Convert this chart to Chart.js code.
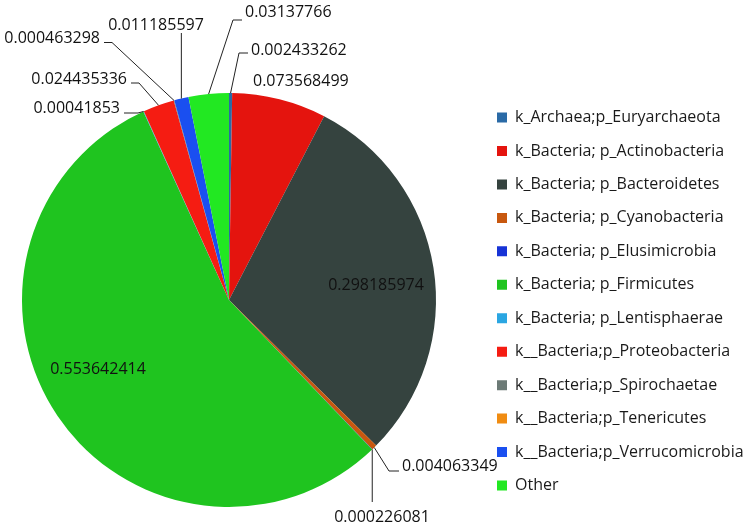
<!DOCTYPE html>
<html><head><meta charset="utf-8">
<script src="https://cdn.jsdelivr.net/npm/chart.js@4/dist/chart.umd.min.js"></script>
<style>html,body{margin:0;padding:0;background:#fff}</style>
</head><body>
<canvas id="c" width="750" height="525"></canvas>
<script>
// ---- data ----
const categories = [
  "k_Archaea;p_Euryarchaeota",
  "k_Bacteria; p_Actinobacteria",
  "k_Bacteria; p_Bacteroidetes",
  "k_Bacteria; p_Cyanobacteria",
  "k_Bacteria; p_Elusimicrobia",
  "k_Bacteria; p_Firmicutes",
  "k_Bacteria; p_Lentisphaerae",
  "k__Bacteria;p_Proteobacteria",
  "k__Bacteria;p_Spirochaetae",
  "k__Bacteria;p_Tenericutes",
  "k__Bacteria;p_Verrucomicrobia",
  "Other"
];
const values = [
  0.002433262, 0.073568499, 0.298185974, 0.004063349, 0.000226081, 0.553642414,
  0.00041853, 0.024435336, 0.000463298, 0, 0.011185597, 0.03137766
];
const sliceColors = [
  "#2a6aa6", "#e4140e", "#35433f", "#c8580f", "#1733d6", "#1fc41f",
  "#2aa6e2", "#f51c12", "#6c7a76", "#f08c12", "#1a4ff0", "#22e822"
];

// ---- layout (styling only) ----
const FONT = "'Open Sans', sans-serif";
const PIE_BOX = { left: 22, top: 93, size: 414 };
const LEGEND_BOX_X = 497;
// text anchors for value labels, by category index
const labelLayout = {
  0:  { x: 251, y: 54.5, align: "left",   leader: "elbow", dy: -1.5, tick: 9 },
  1:  { x: 253, y: 86,   align: "left",   leader: "none" },
  2:  { x: 376, y: 290,  align: "center", leader: "none" },
  3:  { x: 402, y: 471,  align: "left",   leader: "elbow", dy: 0, tick: 10 },
  4:  { x: 382, y: 522,  align: "center", leader: "vertical", endY: 502 },
  5:  { x: 98,  y: 374,  align: "center", leader: "none" },
  6:  { x: 120, y: 113,  align: "right",  leader: "elbow", dy: 0, tick: 14 },
  7:  { x: 127, y: 84,   align: "right",  leader: "elbow", dy: -1, tick: 8 },
  8:  { x: 100, y: 42.5, align: "right",  leader: "elbow", dy: 0, tick: 8 },
  10: { x: 156, y: 30,   align: "center", leader: "vertical", endY: 33 },
  11: { x: 245, y: 17,   align: "left",   leader: "elbow", dy: 3, tick: 9 }
};

const placePlugin = {
  id: "place",
  afterLayout(chart) {
    const ca = chart.chartArea;
    ca.left = PIE_BOX.left; ca.top = PIE_BOX.top;
    ca.right = PIE_BOX.left + PIE_BOX.size; ca.bottom = PIE_BOX.top + PIE_BOX.size;
    ca.width = PIE_BOX.size; ca.height = PIE_BOX.size;
    const lg = chart.legend;
    const pad = chart.options.plugins.legend.labels.padding;
    const shift = (LEGEND_BOX_X - pad) - lg.left;
    lg.left += shift; lg.right += shift;
  }
};

const valueLabelPlugin = {
  id: "valueLabels",
  afterDatasetsDraw(chart) {
    const ctx = chart.ctx;
    const meta = chart.getDatasetMeta(0);
    ctx.save();
    ctx.font = "16px " + FONT;
    ctx.fillStyle = "#111";
    ctx.strokeStyle = "#222";
    ctx.lineWidth = 1;
    ctx.textBaseline = "alphabetic";
    values.forEach((v, i) => {
      const L = labelLayout[i];
      if (!L || v === 0) return;
      const arc = meta.data[i];
      const mid = (arc.startAngle + arc.endAngle) / 2;
      const ax = arc.x + arc.outerRadius * Math.cos(mid);
      const ay = arc.y + arc.outerRadius * Math.sin(mid);
      const txt = String(v);
      ctx.textAlign = L.align;
      ctx.fillText(txt, L.x, L.y);
      if (L.leader === "elbow") {
        const ey = L.y + L.dy;
        const ex = L.align === "left" ? L.x - 3 : L.x + 4;
        const kx = L.align === "left" ? ex - L.tick : ex + L.tick;
        ctx.beginPath();
        ctx.moveTo(ax, ay); ctx.lineTo(kx, ey); ctx.lineTo(ex, ey);
        ctx.stroke();
      } else if (L.leader === "vertical") {
        ctx.beginPath();
        ctx.moveTo(ax, ay); ctx.lineTo(ax, L.endY);
        ctx.stroke();
      }
    });
    ctx.restore();
  }
};

new Chart(document.getElementById("c"), {
  type: "pie",
  data: {
    labels: categories,
    datasets: [{
      data: values,
      backgroundColor: sliceColors,
      borderWidth: 0,
      hoverOffset: 0
    }]
  },
  options: {
    responsive: false,
    animation: false,
    layout: { padding: { top: 78, bottom: 0, left: 0, right: 0 } },
    plugins: {
      tooltip: { enabled: false },
      legend: {
        position: "right",
        labels: {
          boxWidth: 10,
          boxHeight: 10,
          padding: 17.45,
          color: "#1a1a1a",
          font: { family: FONT, size: 16 }
        }
      }
    }
  },
  plugins: [placePlugin, valueLabelPlugin]
});
</script>
</body></html>
